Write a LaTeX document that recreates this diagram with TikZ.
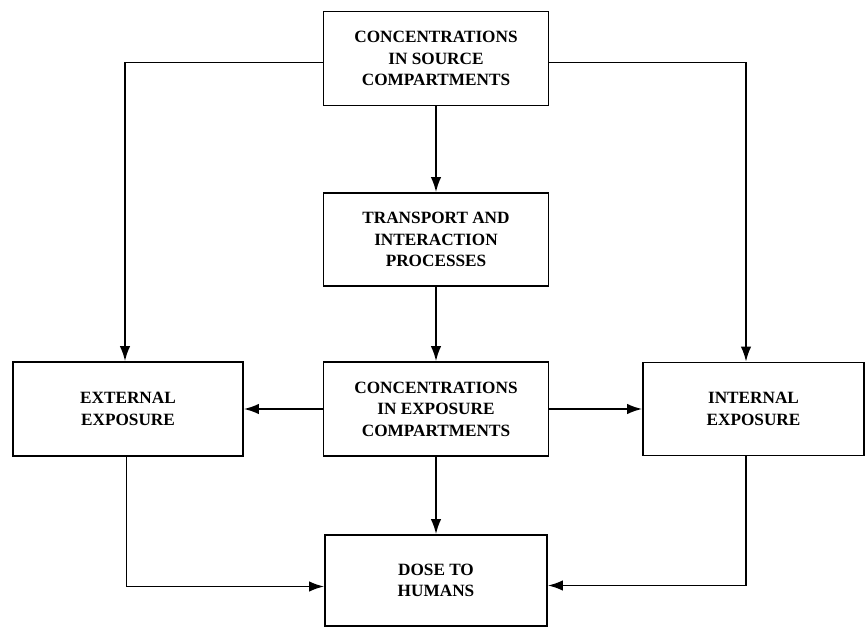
\documentclass[tikz,border=0pt]{standalone}
\usepackage{fontspec}
\setmainfont{Liberation Serif}
\usetikzlibrary{arrows.meta}
\begin{document}
\begin{tikzpicture}[>={Latex[length=3mm,width=2.1mm]}, line width=1pt,
  blk/.style={draw, minimum height=1.88cm, align=center,
    font=\fontsize{9.8}{12.2}\selectfont\bfseries}]
\useasboundingbox (0,0) rectangle (17.32,12.56);
% boxes
\node[blk, minimum width=4.5cm] (src) at (8.72,11.39) {CONCENTRATIONS\\IN SOURCE\\COMPARTMENTS};
\node[blk, minimum width=4.5cm, minimum height=1.86cm] (trans) at (8.72,7.77) {TRANSPORT AND\\INTERACTION\\PROCESSES};
\node[blk, minimum width=4.5cm] (expo) at (8.72,4.38) {CONCENTRATIONS\\IN EXPOSURE\\COMPARTMENTS};
\node[blk, minimum width=4.6cm] (ext) at (2.56,4.38) {EXTERNAL\\EXPOSURE};
\node[blk, minimum width=4.42cm, minimum height=1.86cm] (int) at (15.07,4.38) {INTERNAL\\EXPOSURE};
\node[blk, minimum width=4.44cm, minimum height=1.82cm] (dose) at (8.72,0.95) {DOSE TO\\HUMANS};
% connectors
\draw[->] (src.south)--(trans.north);
\draw[->] (trans.south)--(expo.north);
\draw[->] (expo.south)--(dose.north);
\draw[->] (expo.west)--(ext.east);
\draw[->] (expo.east)--(int.west);
\draw[->] ([yshift=-0.8mm]src.west) -| ([xshift=-0.6mm]ext.north);
\draw[->] ([yshift=-0.8mm]src.east) -| ([xshift=-1.5mm]int.north);
\draw[->] ([xshift=-0.3mm]ext.south) |- ([yshift=-1.2mm]dose.west);
\draw[->] ([xshift=-1.5mm]int.south) |- ([yshift=-1mm]dose.east);
\end{tikzpicture}
\end{document}
